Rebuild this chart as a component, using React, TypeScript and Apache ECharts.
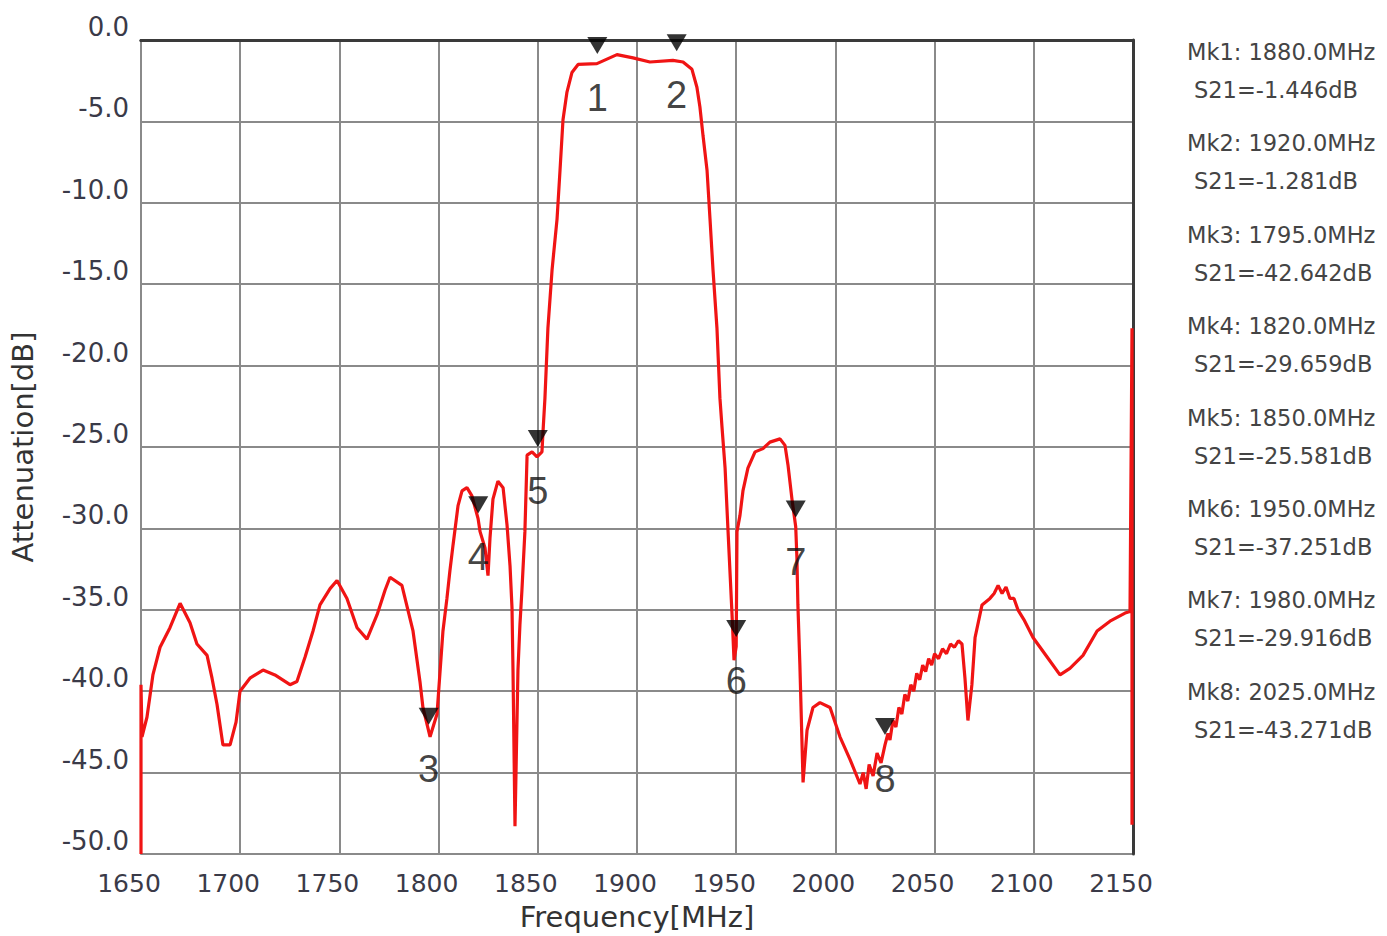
import React, { useEffect, useRef } from "react";
import * as echarts from "echarts";

// Trace: frequency (MHz) and S21 (dB)
const freqMHz = [
  1650, 1650, 1650.5, 1653, 1656, 1659.6, 1664.6, 1669.7, 1674.7, 1678.2,
  1683.3, 1685.8, 1688.3, 1691.3, 1694.9, 1697.9, 1699.9, 1704.9, 1711.5, 1717.5,
  1725.1, 1728.6, 1732.7, 1736.7, 1740.2, 1745.3, 1748.8, 1753.8, 1758.9, 1763.9,
  1769.0, 1773.0, 1775.5, 1781.5, 1787.1, 1790.6, 1792.1, 1795.7, 1799.2, 1802.2,
  1804.2, 1805.7, 1807.3, 1809.8, 1811.8, 1814.3, 1816.8, 1819.9, 1820.9, 1823.4,
  1824.9, 1825.9, 1827.4, 1829.9, 1832.5, 1834.5, 1836.0, 1837.0, 1837.5, 1838.5,
  1840.0, 1841.0, 1842.0, 1843.5, 1844.6, 1847.1, 1849.6, 1852.1, 1852.6, 1853.6,
  1855.1, 1857.2, 1859.7, 1861.2, 1862.7, 1864.7, 1867.2, 1870.3, 1879.8, 1889.9,
  1898.0, 1906.5, 1918.1, 1923.2, 1927.7, 1930.2, 1931.7, 1933.3, 1935.3, 1936.8,
  1938.3, 1940.3, 1941.8, 1942.8, 1944.4, 1945.9, 1947.9, 1948.9, 1950.0, 1950.4,
  1951.9, 1953.4, 1955.9, 1959.5, 1963.5, 1967.0, 1972.1, 1974.6, 1976.1, 1978.1,
  1980.0, 1980.6, 1981.1, 1982.1, 1983.7, 1985.7, 1988.7, 1992.2, 1997.3, 2002.3,
  2007.4, 2012.4, 2014.0, 2015.5, 2017.0, 2019.0, 2021.0, 2023.0, 2025.0, 2026.5,
  2027.5, 2029.0, 2030.5, 2032.0, 2033.5, 2035.0, 2036.5, 2038.0, 2039.5, 2041.0,
  2042.5, 2044.0, 2045.5, 2047.0, 2048.5, 2050.0, 2052.0, 2054.0, 2056.0, 2058.0,
  2060.0, 2062.0, 2063.8, 2065.3, 2066.8, 2068.8, 2070.4, 2073.9, 2077.9, 2080.0,
  2082.0, 2084.0, 2086.0, 2088.0, 2090.0, 2092.0, 2095.0, 2099.6, 2106.7, 2113.2,
  2118.2, 2124.8, 2131.9, 2138.4, 2146.0, 2148.5, 2149.5, 2149.5,
];
const s21dB = [
  -50.0, -39.6, -42.8, -41.6, -39.0, -37.3, -36.1, -34.6, -35.8, -37.1,
  -37.8, -39.2, -40.8, -43.3, -43.3, -41.9, -40.0, -39.2, -38.7, -39.0,
  -39.6, -39.4, -37.9, -36.3, -34.7, -33.7, -33.2, -34.3, -36.1, -36.8,
  -35.3, -33.8, -33.0, -33.5, -36.3, -39.4, -41.0, -42.8, -41.4, -36.3,
  -34.3, -32.6, -31.0, -28.6, -27.7, -27.5, -28.0, -29.4, -30.2, -31.2,
  -32.9, -30.6, -28.2, -27.1, -27.5, -29.8, -32.3, -34.9, -38.7, -48.3,
  -38.7, -35.9, -33.8, -30.2, -25.5, -25.3, -25.6, -25.3, -24.1, -22.0,
  -17.7, -14.1, -11.0, -8.0, -4.9, -3.2, -2.0, -1.5, -1.45, -0.9,
  -1.1, -1.35, -1.25, -1.35, -1.8, -2.9, -4.1, -5.9, -8.0, -11.0,
  -14.1, -17.7, -22.0, -23.7, -26.3, -30.2, -35.3, -38.1, -37.25, -30.2,
  -29.2, -27.7, -26.3, -25.3, -25.1, -24.7, -24.5, -24.9, -26.1, -28.2,
  -29.9, -31.8, -34.7, -38.4, -45.6, -42.4, -41.0, -40.7, -41.0, -42.8,
  -44.2, -45.7, -45.0, -46.0, -44.5, -45.2, -43.8, -44.4, -43.3, -42.6,
  -43.0, -41.8, -42.2, -41.0, -41.4, -40.2, -40.6, -39.6, -40.0, -38.9,
  -39.3, -38.4, -38.8, -38.0, -38.4, -37.7, -38.0, -37.4, -37.7, -37.1,
  -37.3, -36.9, -37.1, -39.2, -41.8, -39.6, -36.7, -34.7, -34.3, -34.0,
  -33.5, -34.0, -33.6, -34.3, -34.3, -35.0, -35.6, -36.7, -37.9, -39.0,
  -38.6, -37.8, -36.3, -35.7, -35.2, -35.1, -17.7, -48.2,
];

// Markers
const markerNames = ["1", "2", "3", "4", "5", "6", "7", "8"];
const markerFreqs = [1880, 1920, 1795, 1820, 1850, 1950, 1980, 2025];
const markerVals = [-1.446, -1.281, -42.642, -29.659, -25.581, -37.251, -29.916, -43.271];

const FONT = "'DejaVu Sans', sans-serif";

export default function App() {
  const ref = useRef<HTMLDivElement>(null);

  useEffect(() => {
    if (!ref.current) return;
    const chart = echarts.init(ref.current, undefined, { renderer: "svg" });

    const trace = freqMHz.map((f, i) => [f, s21dB[i]]);
    const markers = markerFreqs.map((f, i) => ({ name: markerNames[i], value: [f, markerVals[i]] }));

    const legendTexts: any[] = [];
    markerFreqs.forEach((f, i) => {
      legendTexts.push({
        type: "text",
        x: 1187,
        y: 52 + i * 91.4,
        silent: true,
        style: {
          text: `Mk${i + 1}: ${f.toFixed(1)}MHz`,
          fontFamily: FONT,
          fontSize: 22.5,
          fill: "#444444",
          verticalAlign: "middle",
          align: "left",
        },
      });
      legendTexts.push({
        type: "text",
        x: 1194,
        y: 90 + i * 91.4,
        silent: true,
        style: {
          text: `S21=${markerVals[i].toFixed(3)}dB`,
          fontFamily: FONT,
          fontSize: 22.5,
          fill: "#444444",
          verticalAlign: "middle",
          align: "left",
        },
      });
    });

    chart.setOption({
      animation: false,
      backgroundColor: "#ffffff",
      grid: { left: 141, top: 40, right: 254, bottom: 79, containLabel: false },
      xAxis: [
        {
          type: "value",
          min: 1650,
          max: 2150,
          interval: 50,
          name: "Frequency[MHz]",
          nameLocation: "middle",
          nameGap: 48,
          nameTextStyle: { fontFamily: FONT, fontSize: 29, color: "#333" },
          axisLine: { show: true, lineStyle: { color: "#3a3a3a", width: 3 } },
          axisTick: { show: false },
          axisLabel: {
            fontFamily: FONT,
            fontSize: 25,
            color: "#3a3a48",
            margin: 17,
            padding: [0, 24, 0, 0],
            formatter: (v: number) => String(v),
          },
          splitLine: { show: true, lineStyle: { color: "#8a8a8a", width: 2 } },
        },
        {
          type: "value",
          position: "top",
          min: 1650,
          max: 2150,
          interval: 50,
          axisLine: { show: true, lineStyle: { color: "#3a3a3a", width: 3 } },
          axisTick: { show: false },
          axisLabel: { show: false },
          splitLine: { show: false },
        },
      ],
      yAxis: [
        {
          type: "value",
          min: -50,
          max: 0,
          interval: 5,
          name: "Attenuation[dB]",
          nameLocation: "middle",
          nameGap: 104,
          nameRotate: 90,
          nameTextStyle: { fontFamily: FONT, fontSize: 29, color: "#333" },
          axisLine: { show: true, lineStyle: { color: "#8a8a8a", width: 2 } },
          axisTick: { show: false },
          axisLabel: {
            fontFamily: FONT,
            fontSize: 26,
            color: "#3a3a48",
            margin: 12,
            verticalAlign: "bottom",
            formatter: (v: number) => v.toFixed(1),
          },
          splitLine: { show: true, lineStyle: { color: "#8a8a8a", width: 2 } },
        },
        {
          type: "value",
          position: "right",
          min: -50,
          max: 0,
          interval: 5,
          axisLine: { show: true, lineStyle: { color: "#3a3a3a", width: 3 } },
          axisTick: { show: false },
          axisLabel: { show: false },
          splitLine: { show: false },
        },
      ],
      series: [
        {
          type: "line",
          xAxisIndex: 0,
          yAxisIndex: 0,
          data: trace,
          showSymbol: false,
          symbol: "none",
          lineStyle: { color: "#f01414", width: 3.2 },
          z: 3,
        },
        {
          type: "scatter",
          xAxisIndex: 0,
          yAxisIndex: 0,
          data: markers,
          symbol: "triangle",
          symbolRotate: 180,
          symbolSize: [20, 17],
          symbolOffset: [0, -18],
          itemStyle: { color: "#000000" },
          label: {
            show: true,
            position: "bottom",
            distance: 25,
            formatter: (p: any) => p.name,
            fontFamily: "'Liberation Sans', Arial, sans-serif",
            fontSize: 38,
            color: "#111111",
            textBorderWidth: 0,
          },
          z: 5,
        },
      ],
      graphic: legendTexts,
    });

    return () => chart.dispose();
  }, []);

  return (
    <div
      ref={ref}
      style={{ position: "fixed", left: 0, top: 0, width: "1387px", height: "936px", background: "#fff" }}
    />
  );
}
